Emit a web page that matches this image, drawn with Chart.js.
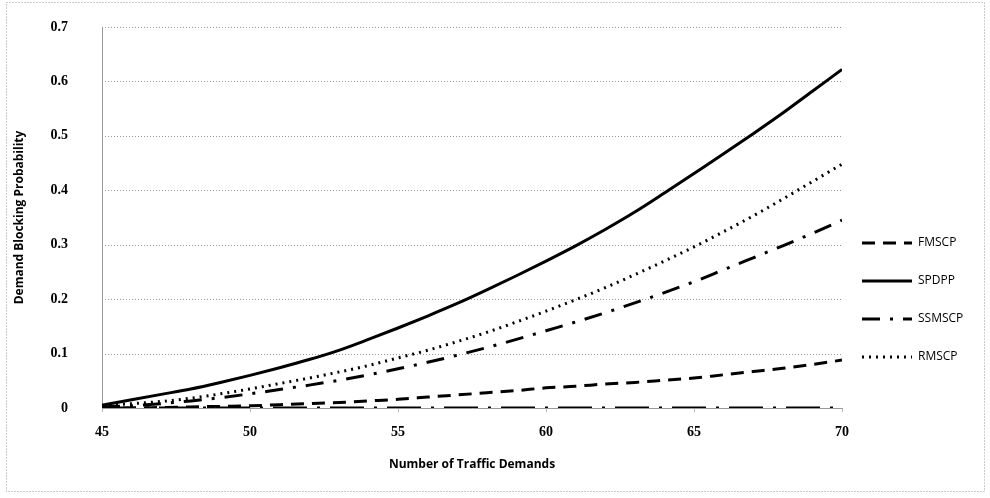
<!DOCTYPE html>
<html>
<head>
<meta charset="utf-8">
<script src="https://cdn.jsdelivr.net/npm/chart.js@4/dist/chart.umd.min.js"></script>
<style>
  html, body { margin: 0; padding: 0; background: #fff; }
  #wrap { width: 990px; height: 498px; }
</style>
</head>
<body>
<div id="wrap"><canvas id="myChart" width="990" height="498"></canvas></div>
<script>
// traffic demands (x)
const demands = [45, 46, 47, 48, 49, 50, 51, 52, 53, 54, 55, 56, 57, 58, 59, 60, 61, 62, 63, 64, 65, 66, 67, 68, 69, 70];

const fmscp = [0.0, 0.0, 0.001, 0.002, 0.003, 0.004, 0.006, 0.008, 0.010, 0.013, 0.016, 0.020, 0.024, 0.028, 0.032, 0.037, 0.040, 0.044, 0.047, 0.051, 0.055, 0.061, 0.067, 0.073, 0.080, 0.088];
const spdpp = [0.005, 0.015, 0.025, 0.035, 0.047, 0.060, 0.074, 0.089, 0.106, 0.126, 0.147, 0.169, 0.192, 0.217, 0.243, 0.270, 0.298, 0.328, 0.360, 0.395, 0.431, 0.467, 0.504, 0.542, 0.582, 0.622];
const ssmscp = [0.002, 0.004, 0.008, 0.013, 0.019, 0.026, 0.034, 0.042, 0.051, 0.061, 0.072, 0.084, 0.097, 0.111, 0.126, 0.142, 0.158, 0.175, 0.193, 0.212, 0.232, 0.254, 0.276, 0.298, 0.321, 0.345];
const rmscp = [0.005, 0.008, 0.012, 0.018, 0.026, 0.035, 0.045, 0.055, 0.066, 0.078, 0.092, 0.106, 0.122, 0.139, 0.158, 0.178, 0.199, 0.221, 0.245, 0.270, 0.296, 0.324, 0.353, 0.384, 0.416, 0.448];
// unlabelled series lying on zero
const zeroSeries = [0, 0, 0, 0, 0, 0, 0, 0, 0, 0, 0, 0, 0, 0, 0, 0, 0, 0, 0, 0, 0, 0, 0, 0, 0, 0];

const xTicks = [45, 50, 55, 60, 65, 70];
const yTicks = [0, 0.1, 0.2, 0.3, 0.4, 0.5, 0.6, 0.7];

const pts = (arr) => arr.map((v, i) => ({ x: demands[i], y: v }));

function series(label, values, dash, width) {
  return {
    label: label,
    data: pts(values),
    borderColor: "#000",
    borderWidth: width,
    borderDash: dash,
    pointRadius: 0,
    fill: false,
    cubicInterpolationMode: "monotone",
  };
}

// dotted frame round the whole chart
const frame = {
  id: "frame",
  beforeDraw(chart) {
    const ctx = chart.ctx;
    ctx.save();
    ctx.fillStyle = "#fff";
    ctx.fillRect(0, 0, chart.width, chart.height);
    ctx.strokeStyle = "#999";
    ctx.lineWidth = 1;
    ctx.setLineDash([1, 2]);
    ctx.strokeRect(6.5, 2.5, 978, 489);
    ctx.restore();
  },
};

// dotted horizontal gridlines at the y ticks
const dottedGrid = {
  id: "dottedGrid",
  beforeDatasetsDraw(chart) {
    const ctx = chart.ctx;
    const area = chart.chartArea;
    const yScale = chart.scales.y;
    ctx.save();
    ctx.strokeStyle = "#999";
    ctx.lineWidth = 1;
    ctx.setLineDash([1, 2]);
    yTicks.forEach((v) => {
      const y = Math.round(yScale.getPixelForValue(v)) + 0.5;
      ctx.beginPath();
      ctx.moveTo(area.left, y);
      ctx.lineTo(area.right, y);
      ctx.stroke();
    });
    ctx.restore();
  },
};

// legend drawn by hand to match the excel look
const sideLegend = {
  id: "sideLegend",
  afterDraw(chart) {
    const ctx = chart.ctx;
    ctx.save();
    let y = 243;
    chart.data.datasets.forEach((ds) => {
      if (!ds.label) return;
      ctx.strokeStyle = ds.borderColor;
      ctx.lineWidth = ds.borderWidth;
      ctx.setLineDash(ds.borderDash || []);
      ctx.beginPath();
      ctx.moveTo(862, y);
      ctx.lineTo(912, y);
      ctx.stroke();
      ctx.setLineDash([]);
      ctx.fillStyle = "#000";
      ctx.font = "12px 'Open Sans', sans-serif";
      ctx.textBaseline = "middle";
      ctx.fillText(ds.label, 918, y);
      y += 38;
    });
    ctx.restore();
  },
};

new Chart(document.getElementById("myChart"), {
  type: "line",
  data: {
    datasets: [
      series("FMSCP", fmscp, [13, 8], 3),
      series("SPDPP", spdpp, [], 3),
      series("SSMSCP", ssmscp, [18, 10, 3, 10], 3),
      series("RMSCP", rmscp, [2, 5], 3),
      series("", zeroSeries, [34, 10, 3, 10], 3),
    ],
  },
  options: {
    responsive: false,
    animation: false,
    layout: { padding: { left: 8, right: 148, top: 27, bottom: 22 } },
    plugins: {
      legend: { display: false },
      tooltip: { enabled: false },
    },
    scales: {
      x: {
        type: "linear",
        min: 45,
        max: 70,
        afterBuildTicks: (scale) => {
          scale.ticks = xTicks.map((v) => ({ value: v }));
        },
        afterFit: (scale) => {
          scale.height = 68;
        },
        grid: {
          drawOnChartArea: false,
          drawTicks: true,
          tickLength: 4,
          color: "#bbb",
        },
        border: { display: true, color: "#999", dash: [2, 2] },
        ticks: {
          padding: 12,
          color: "#000",
          font: { family: "'Liberation Serif', serif", size: 14, weight: "bold" },
        },
        title: {
          display: true,
          text: "Number of Traffic Demands",
          color: "#000",
          font: { family: "'Open Sans', sans-serif", size: 12, weight: "bold" },
          padding: { top: 12 },
        },
      },
      y: {
        min: 0,
        max: 0.7,
        afterBuildTicks: (scale) => {
          scale.ticks = yTicks.map((v) => ({ value: v }));
        },
        afterFit: (scale) => {
          scale.width = 94;
          // label padding would otherwise push the plot top down
          scale.paddingTop = 0;
          scale.paddingBottom = 0;
        },
        grid: {
          display: false,
          drawTicks: false,
        },
        border: { display: true, color: "#999", dash: [2, 2] },
        ticks: {
          padding: 34,
          color: "#000",
          font: { family: "'Liberation Serif', serif", size: 14, weight: "bold" },
          callback: (v) => String(v),
        },
        title: {
          display: true,
          text: "Demand Blocking Probability",
          color: "#000",
          font: { family: "'Open Sans', sans-serif", size: 12, weight: "bold" },
          padding: { bottom: 0 },
        },
      },
    },
  },
  plugins: [frame, dottedGrid, sideLegend],
});
</script>
</body>
</html>
